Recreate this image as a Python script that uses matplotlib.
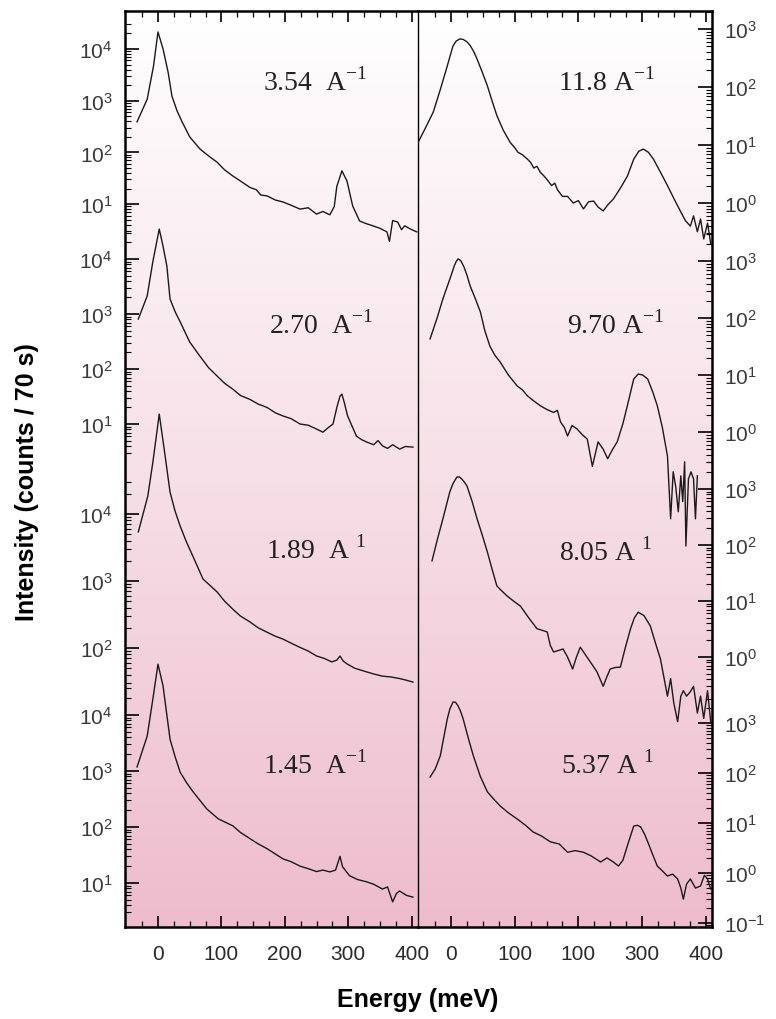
import numpy as np
import matplotlib.pyplot as plt
from matplotlib.colors import LinearSegmentedColormap
from matplotlib.ticker import FixedLocator, FixedFormatter, NullFormatter

# ---------------- spectra (energy in meV, intensity in counts / 70 s) ----------------
# left panel
e_354 = [-33, -17, -7, 0, 8, 16, 22, 30, 38, 50, 66, 80, 93, 105, 118, 130, 145, 155, 162, 172,
         185, 197, 210, 224, 237, 250, 260, 271, 278, 282, 290, 298, 307, 318, 328, 339, 350, 361,
         365, 370, 378, 384, 389, 398, 408]
i_354 = [390, 1070, 4700, 21400, 10000, 3550, 1230, 640, 390, 200, 117, 85, 65, 46, 35, 28, 21, 19,
         15, 14.4, 12, 11, 9.5, 8.0, 8.5, 6.4, 7.2, 6.2, 9, 22, 44, 28, 9.2, 4.7, 4.2, 3.8, 3.4, 2.9,
         1.9, 4.8, 4.5, 3.2, 3.8, 3.3, 2.9]

e_270 = [-31, -17, -8, 2, 8, 14, 19, 27, 35, 50, 66, 80, 93, 105, 118, 130, 145, 158, 172, 185, 197,
         210, 224, 237, 250, 260, 268, 276, 282, 287, 290, 294, 299, 313, 321, 329, 340, 347, 354,
         362, 370, 381, 390, 402]
i_270 = [810, 2130, 9100, 35000, 17000, 7450, 1880, 1100, 720, 310, 172, 105, 75, 55, 43, 33, 28, 23,
         20, 16, 14, 12.5, 10, 9.5, 8.1, 7.1, 8.5, 10, 20, 32, 35, 24, 14, 6.0, 5.2, 4.7, 4.2, 5.0,
         4.0, 3.6, 4.2, 3.5, 3.9, 3.8]

e_189 = [-31, -16, -8, 2, 10, 19, 27, 35, 45, 55, 71, 93, 105, 118, 130, 145, 158, 172, 185, 197,
         210, 224, 237, 250, 262, 274, 282, 287, 292, 298, 310, 329, 340, 354, 367, 381, 392, 402]
i_189 = [5400, 18600, 60000, 310000, 90000, 21300, 11000, 6600, 3800, 2350, 1070, 690, 500, 380, 300,
         245, 200, 172, 150, 136, 118, 102, 90, 76, 70, 62, 66, 76, 64, 58, 50, 44, 41, 38, 37, 35,
         33, 31]

e_145 = [-33, -17, -8, 0, 8, 19, 27, 35, 45, 55, 66, 77, 95, 118, 130, 145, 158, 172, 185, 197, 210,
         224, 237, 250, 260, 271, 280, 287, 291, 302, 315, 329, 340, 354, 362, 370, 376, 381, 392, 402]
i_145 = [1180, 4200, 19500, 81000, 33000, 3700, 1800, 950, 620, 430, 300, 210, 140, 105, 80, 62, 50,
         41, 33, 27, 24, 20, 18, 16, 17, 15.8, 17, 30, 19.5, 13.5, 11.5, 10.5, 9.5, 7.8, 8.5, 4.6,
         6.5, 7.2, 6.0, 5.6]

# right panel
e_118 = [-52, -40, -28, -17, -6, -2, 3, 8, 14, 19, 25, 30, 36, 41, 49, 57, 65, 72, 82, 93, 100, 105,
         112, 120, 125, 130, 135, 140, 145, 150, 158, 163, 167, 175, 183, 192, 200, 208, 216, 224,
         231, 239, 247, 255, 266, 277, 287, 295, 302, 310, 318, 329, 340, 350, 361, 368, 376, 381,
         387, 392, 397, 403, 408]
i_118 = [11, 20, 37, 90, 230, 330, 510, 620, 675, 660, 600, 520, 400, 300, 180, 105, 55, 32, 18, 11,
         9, 7.5, 6.8, 5.7, 5.0, 4.0, 4.3, 3.4, 3.0, 2.6, 2.0, 2.2, 1.7, 1.3, 1.3, 1.0, 1.1, 0.79,
         1.05, 1.08, 0.85, 0.73, 0.95, 1.17, 1.8, 2.9, 5.7, 7.8, 8.5, 7.5, 5.7, 3.4, 2.0, 1.2, 0.7,
         0.5, 0.4, 0.6, 0.32, 0.53, 0.24, 0.45, 0.2]

e_970 = [-33, -22, -13, -2, 2, 5, 8, 11, 15, 20, 25, 30, 38, 46, 53, 61, 69, 77, 90, 104, 112, 120,
         130, 140, 150, 161, 167, 172, 178, 183, 190, 198, 206, 214, 222, 231, 239, 246, 254, 261,
         270, 277, 287, 294, 301, 309, 317, 324, 332, 340, 345, 349, 353, 357, 361, 364, 367, 369,
         373, 377, 381, 384, 387]
i_970 = [43, 100, 215, 480, 650, 820, 980, 1090, 1020, 800, 560, 365, 220, 128, 60, 32, 22, 17, 10,
         6.4, 5.5, 4.3, 3.5, 2.9, 2.5, 2.2, 2.4, 1.5, 1.2, 0.85, 1.3, 1.13, 0.9, 0.75, 0.25, 0.67,
         0.5, 0.34, 0.5, 0.67, 1.4, 2.9, 8.5, 10.4, 10, 8.5, 5, 2.9, 1.2, 0.38, 0.03, 0.2, 0.11,
         0.04, 0.17, 0.06, 0.3, 0.01, 0.15, 0.2, 0.15, 0.03, 0.17]

e_805 = [-30, -22, -13, -2, 3, 9, 13, 17, 21, 25, 33, 41, 49, 57, 65, 72, 80, 88, 98, 109, 122, 135,
         143, 151, 156, 161, 168, 176, 183, 191, 197, 203, 211, 219, 229, 239, 245, 250, 258, 266,
         274, 282, 288, 294, 303, 313, 321, 329, 335, 340, 345, 350, 356, 361, 365, 370, 376, 381,
         387, 392, 397, 403, 408]
i_805 = [52, 120, 290, 890, 1250, 1630, 1650, 1500, 1320, 1130, 600, 290, 150, 75, 35, 18.5, 15,
         12.3, 10, 8.1, 5, 3.2, 3.0, 2.8, 1.6, 1.23, 1.3, 1.39, 1.0, 0.61, 1.0, 1.5, 1.1, 0.81, 0.55,
         0.30, 0.45, 0.61, 0.65, 0.66, 1.5, 3.2, 5, 6.3, 5.5, 3.6, 1.8, 0.92, 0.4, 0.2, 0.41, 0.15,
         0.07, 0.2, 0.25, 0.2, 0.24, 0.3, 0.10, 0.2, 0.08, 0.25, 0.07]

e_537 = [-33, -25, -17, -6, -2, 3, 7, 11, 15, 19, 27, 35, 46, 57, 67, 77, 90, 104, 117, 129, 142,
         156, 170, 183, 195, 208, 220, 235, 245, 255, 263, 270, 277, 287, 293, 298, 304, 309, 317,
         324, 332, 340, 348, 356, 361, 365, 370, 376, 384, 392, 398, 403, 408]
i_537 = [83, 120, 220, 1200, 1900, 2630, 2600, 2200, 1700, 1200, 500, 220, 85, 42, 30, 22, 16, 12, 9,
         6.6, 5.5, 4.2, 3.8, 2.6, 2.8, 2.6, 2.2, 1.66, 2.0, 1.66, 1.38, 1.8, 3.5, 8.7, 9.0, 8.3, 6.0,
         4.2, 2.3, 1.38, 1.1, 0.87, 0.95, 0.76, 0.5, 0.30, 0.6, 0.76, 0.5, 0.55, 0.9, 0.76, 0.48]

labels_left = ["3.54  A$^{\\mathregular{-1}}$", "2.70  A$^{\\mathregular{-1}}$",
               "1.89  A$^{\\mathregular{\\ 1}}$", "1.45  A$^{\\mathregular{-1}}$"]
labels_right = ["11.8 A$^{\\mathregular{-1}}$", "9.70 A$^{\\mathregular{-1}}$",
                "8.05 A$^{\\mathregular{\\ 1}}$", "5.37 A$^{\\mathregular{\\ 1}}$"]

x_ticks = [0, 100, 200, 300, 400]
x_labels_left = ["0", "100", "200", "300", "400"]
x_labels_right = ["0", "100", "100", "300", "400"]

# ---------------- layout (pixels of a 776 x 1020 figure) ----------------
W_PX, H_PX = 776, 1020
FRAME_L, FRAME_R, FRAME_T, FRAME_B, DIVIDER = 125, 712, 12, 928, 418
XLIM = (-52, 410)

# (top decade exponent, pixel y of that decade, pixels per decade, lowest labelled decade)
scale_left = [(4, 50, 51.7, 1), (4, 260, 55, 1), (4, 515, 67, 2), (4, 716, 56, 1)]
scale_right = [(3, 30, 58, 0), (3, 262, 57, 0), (3, 490, 56, 0), (3, 724, 50, -1)]
label_pos_left = [(315, 82), (321, 325), (316, 550), (315, 765)]
label_pos_right = [(607, 82), (616, 325), (605, 552), (607, 765)]


def fig_rect(x0, x1, y0, y1):
    return [x0 / W_PX, 1 - y1 / H_PX, (x1 - x0) / W_PX, (y1 - y0) / H_PX]


fig = plt.figure(figsize=(W_PX / 100, H_PX / 100), dpi=100)
fig.patch.set_facecolor("white")

# pink gradient behind the spectra
bg = fig.add_axes(fig_rect(FRAME_L, FRAME_R, FRAME_T, FRAME_B))
cmap = LinearSegmentedColormap.from_list("pinkfade", ["#ffffff", "#f7e0e7", "#eebccd"])
bg.imshow(np.linspace(0, 1, 256).reshape(-1, 1), aspect="auto", cmap=cmap,
          extent=[0, 1, 0, 1], origin="upper")
bg.axis("off")

tick_font = dict(family=["Liberation Sans", "DejaVu Sans"], size=15)


def add_panel(rect, spectra, scales, side, xlabels):
    first = None
    for (energy, counts), (k_top, p_top, dec, k_low) in zip(spectra, scales):
        ax = fig.add_axes(rect)
        ax.set_facecolor("none")
        ax.set_yscale("log")
        ax.set_xlim(*XLIM)
        hi = k_top + (p_top - FRAME_T) / dec
        lo = k_top - (FRAME_B - p_top) / dec
        ax.set_ylim(10 ** lo, 10 ** hi)
        ax.plot(energy, counts, color="#1a1a1a", lw=1.0)

        decades = list(range(k_low, k_top + 1))
        ax.yaxis.set_major_locator(FixedLocator([10.0 ** k for k in decades]))
        ax.yaxis.set_major_formatter(FixedFormatter(
            ["$\\mathregular{10^{%d}}$" % k for k in decades]))
        minors = [m * 10.0 ** k for k in range(k_low - 1, k_top + 1) for m in range(2, 10)
                  if k_low - 0.6 < np.log10(m * 10.0 ** k) < k_top + 0.6]
        ax.yaxis.set_minor_locator(FixedLocator(minors))
        ax.yaxis.set_minor_formatter(NullFormatter())
        if side == "right":
            ax.yaxis.tick_right()
        ax.tick_params(axis="y", which="major", direction="in", length=10, width=1.2,
                       pad=9, labelcolor="#3a3a3a")
        ax.tick_params(axis="y", which="minor", direction="in", length=4, width=0.8)
        for lab in ax.get_yticklabels():
            lab.set_fontfamily(tick_font["family"])
            lab.set_fontsize(tick_font["size"])

        for sp in ax.spines.values():
            sp.set_visible(False)
        if first is None:
            first = ax
            ax.set_xticks(x_ticks)
            ax.set_xticklabels(xlabels, fontfamily=tick_font["family"], fontsize=tick_font["size"],
                               color="#2a2a2a")
            ax.xaxis.set_minor_locator(FixedLocator(np.arange(-25, 410, 25)))
            ax.tick_params(axis="x", which="both", direction="in", top=True, bottom=True)
            ax.tick_params(axis="x", which="major", length=8, width=1.2, pad=12)
            ax.tick_params(axis="x", which="minor", length=4, width=0.9)
            for name in ("top", "bottom", side):
                ax.spines[name].set_visible(True)
                ax.spines[name].set_linewidth(1.8)
            if side == "left":
                ax.spines["right"].set_visible(True)
                ax.spines["right"].set_linewidth(1.0)
        else:
            ax.tick_params(axis="x", which="both", bottom=False, top=False, labelbottom=False)
    return first


add_panel(fig_rect(FRAME_L, DIVIDER, FRAME_T, FRAME_B),
          [(e_354, i_354), (e_270, i_270), (e_189, i_189), (e_145, i_145)],
          scale_left, "left", x_labels_left)
add_panel(fig_rect(DIVIDER, FRAME_R, FRAME_T, FRAME_B),
          [(e_118, i_118), (e_970, i_970), (e_805, i_805), (e_537, i_537)],
          scale_right, "right", x_labels_right)

serif = ["Liberation Serif", "DejaVu Serif"]
for text, (px, py) in zip(labels_left + labels_right, label_pos_left + label_pos_right):
    fig.text(px / W_PX, 1 - py / H_PX, text, ha="center", va="center",
             fontsize=20, family=serif, color="#222222")

fig.text(418 / W_PX, 1 - 1000 / H_PX, "Energy (meV)", ha="center", va="center",
         fontsize=18, fontweight="bold", family=["Liberation Sans", "DejaVu Sans"])
fig.text(27 / W_PX, 1 - 482 / H_PX, "Intensity (counts / 70 s)", ha="center", va="center",
         rotation=90, fontsize=18, fontweight="bold", family=["Liberation Sans", "DejaVu Sans"])

fig.savefig("out.png", dpi=100, facecolor="white")
